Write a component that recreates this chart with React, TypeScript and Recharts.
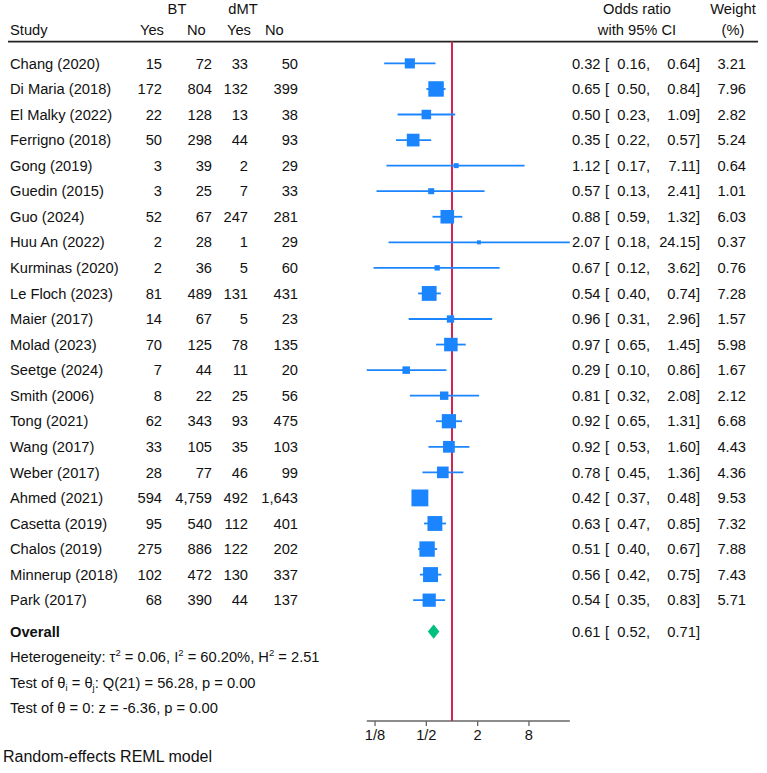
import { ScatterChart, Scatter, XAxis, YAxis, ErrorBar, ReferenceLine } from 'recharts';

// Study-level results (random-effects meta-analysis, BT vs dMT)
const studies = [
  'Chang (2020)', 'Di Maria (2018)', 'El Malky (2022)', 'Ferrigno (2018)', 'Gong (2019)',
  'Guedin (2015)', 'Guo (2024)', 'Huu An (2022)', 'Kurminas (2020)', 'Le Floch (2023)',
  'Maier (2017)', 'Molad (2023)', 'Seetge (2024)', 'Smith (2006)', 'Tong (2021)',
  'Wang (2017)', 'Weber (2017)', 'Ahmed (2021)', 'Casetta (2019)', 'Chalos (2019)',
  'Minnerup (2018)', 'Park (2017)',
];
const btYes = [15, 172, 22, 50, 3, 3, 52, 2, 2, 81, 14, 70, 7, 8, 62, 33, 28, 594, 95, 275, 102, 68];
const btNo = [72, 804, 128, 298, 39, 25, 67, 28, 36, 489, 67, 125, 44, 22, 343, 105, 77, 4759, 540, 886, 472, 390];
const dmtYes = [33, 132, 13, 44, 2, 7, 247, 1, 5, 131, 5, 78, 11, 25, 93, 35, 46, 492, 112, 122, 130, 44];
const dmtNo = [50, 399, 38, 93, 29, 33, 281, 29, 60, 431, 23, 135, 20, 56, 475, 103, 99, 1643, 401, 202, 337, 137];
const oddsRatio = [0.32, 0.65, 0.50, 0.35, 1.12, 0.57, 0.88, 2.07, 0.67, 0.54, 0.96, 0.97, 0.29, 0.81, 0.92, 0.92, 0.78, 0.42, 0.63, 0.51, 0.56, 0.54];
const ciLow = [0.16, 0.50, 0.23, 0.22, 0.17, 0.13, 0.59, 0.18, 0.12, 0.40, 0.31, 0.65, 0.10, 0.32, 0.65, 0.53, 0.45, 0.37, 0.47, 0.40, 0.42, 0.35];
const ciHigh = [0.64, 0.84, 1.09, 0.57, 7.11, 2.41, 1.32, 24.15, 3.62, 0.74, 2.96, 1.45, 0.86, 2.08, 1.31, 1.60, 1.36, 0.48, 0.85, 0.67, 0.75, 0.83];
const weights = [3.21, 7.96, 2.82, 5.24, 0.64, 1.01, 6.03, 0.37, 0.76, 7.28, 1.57, 5.98, 1.67, 2.12, 6.68, 4.43, 4.36, 9.53, 7.32, 7.88, 7.43, 5.71];

const overall = [0.61, 0.52, 0.71]; // OR, lower, upper

const axisTicks = [1 / 8, 1 / 2, 2, 8];
const axisTickLabels = ['1/8', '1/2', '2', '8'];

// layout
const W = 767;
const H = 773;
const FONT = 14.7;
const SMALL = 9.5;
const INK = '#111';
const BLUE = '#1a85ff';
const RED = '#d3264f';
const GREEN = '#00bf7f';
const NULL_PX = 452; // where OR = 1 sits
const PX_PER_LOG2 = 25.65;
const ROW0_PX = 63.4;
const ROW_STEP = 25.56;
const AXIS_PX = 721;
const rowOf = (px: number) => (px - ROW0_PX) / ROW_STEP;

const HEAD1 = rowOf(9);
const HEAD2 = rowOf(29.5);
const RULE = rowOf(41.6);
const OVERALL_ROW = 22.23;
const STAT_ROWS = [23.21, 24.22, 25.21];

const xDomain = [-NULL_PX / PX_PER_LOG2, (W - NULL_PX) / PX_PER_LOG2];
const yDomain = [rowOf(0), rowOf(AXIS_PX)];

const log2 = Math.log2;
const fmtN = (n: number) => n.toLocaleString('en-US');
const fmt2 = (n: number) => n.toFixed(2);

const COL = { study: 10, btYes: 162, btNo: 212, dmtYes: 248, dmtNo: 298, est: 600.5, brk: 605, lo: 650, hi: 700, wt: 746 };

type Cell = { x: number; anchor: 'start' | 'middle' | 'end'; text: any; bold?: boolean };

const studyRows = studies.map((s, i) => ({
  tx: 0,
  y: i,
  cells: [
    { x: COL.study, anchor: 'start', text: s },
    { x: COL.btYes, anchor: 'end', text: fmtN(btYes[i]) },
    { x: COL.btNo, anchor: 'end', text: fmtN(btNo[i]) },
    { x: COL.dmtYes, anchor: 'end', text: fmtN(dmtYes[i]) },
    { x: COL.dmtNo, anchor: 'end', text: fmtN(dmtNo[i]) },
    { x: COL.est, anchor: 'end', text: fmt2(oddsRatio[i]) },
    { x: COL.brk, anchor: 'start', text: '[' },
    { x: COL.lo, anchor: 'end', text: fmt2(ciLow[i]) + ',' },
    { x: COL.hi, anchor: 'end', text: fmt2(ciHigh[i]) + ']' },
    { x: COL.wt, anchor: 'end', text: fmt2(weights[i]) },
  ] as Cell[],
}));

const otherRows = [
  {
    tx: 0, y: HEAD1, cells: [
      { x: 177, anchor: 'middle', text: 'BT' },
      { x: 243, anchor: 'middle', text: 'dMT' },
      { x: 637, anchor: 'middle', text: 'Odds ratio' },
      { x: 733, anchor: 'middle', text: 'Weight' },
    ] as Cell[],
  },
  {
    tx: 0, y: HEAD2, cells: [
      { x: COL.study, anchor: 'start', text: 'Study' },
      { x: 140, anchor: 'start', text: 'Yes' },
      { x: 187, anchor: 'start', text: 'No' },
      { x: 227, anchor: 'start', text: 'Yes' },
      { x: 265, anchor: 'start', text: 'No' },
      { x: 637, anchor: 'middle', text: 'with 95% CI' },
      { x: 733, anchor: 'middle', text: '(%)' },
    ] as Cell[],
  },
  {
    tx: 0, y: OVERALL_ROW, cells: [
      { x: COL.study, anchor: 'start', text: 'Overall', bold: true },
      { x: COL.est, anchor: 'end', text: fmt2(overall[0]) },
      { x: COL.brk, anchor: 'start', text: '[' },
      { x: COL.lo, anchor: 'end', text: fmt2(overall[1]) + ',' },
      { x: COL.hi, anchor: 'end', text: fmt2(overall[2]) + ']' },
    ] as Cell[],
  },
  {
    tx: 0, y: STAT_ROWS[0], cells: [
      {
        x: COL.study, anchor: 'start', text: [
          <tspan key="a">Heterogeneity: τ</tspan>,
          <tspan key="b" dy={-5.5} fontSize={SMALL}>2</tspan>,
          <tspan key="c" dy={5.5}> = 0.06, I</tspan>,
          <tspan key="d" dy={-5.5} fontSize={SMALL}>2</tspan>,
          <tspan key="e" dy={5.5}> = 60.20%, H</tspan>,
          <tspan key="f" dy={-5.5} fontSize={SMALL}>2</tspan>,
          <tspan key="g" dy={5.5}> = 2.51</tspan>,
        ],
      },
    ] as Cell[],
  },
  {
    tx: 0, y: STAT_ROWS[1], cells: [
      {
        x: COL.study, anchor: 'start', text: [
          <tspan key="a">Test of θ</tspan>,
          <tspan key="b" dy={3.5} fontSize={SMALL}>i</tspan>,
          <tspan key="c" dy={-3.5}> = θ</tspan>,
          <tspan key="d" dy={3.5} fontSize={SMALL}>j</tspan>,
          <tspan key="e" dy={-3.5}>: Q(21) = 56.28, p = 0.00</tspan>,
        ],
      },
    ] as Cell[],
  },
  {
    tx: 0, y: STAT_ROWS[2], cells: [
      { x: COL.study, anchor: 'start', text: 'Test of θ = 0: z = -6.36, p = 0.00' },
    ] as Cell[],
  },
];

const studyPoints = studies.map((s, i) => ({
  name: s,
  x: log2(oddsRatio[i]),
  y: i,
  w: weights[i],
  err: [log2(oddsRatio[i]) - log2(ciLow[i]), log2(ciHigh[i]) - log2(oddsRatio[i])],
}));

const overallPoint = [{ x: log2(overall[0]), y: OVERALL_ROW, lo: log2(overall[1]), hi: log2(overall[2]) }];

const ciMin = Math.min(...ciLow);
const ciMax = Math.max(...ciHigh);

const TextRow = (props: any) => {
  const { cy, payload } = props;
  return (
    <g>
      {payload.cells.map((c: Cell, k: number) => (
        <text
          key={k}
          x={c.x}
          y={cy}
          dy="0.35em"
          textAnchor={c.anchor}
          fontSize={FONT}
          fontWeight={c.bold ? 'bold' : 'normal'}
          fill={INK}
        >
          {c.text}
        </text>
      ))}
    </g>
  );
};

// box area proportional to study weight
const WeightBox = (props: any) => {
  const { cx, cy, payload } = props;
  const s = 5.2 * Math.sqrt(payload.w) + 0.8;
  return <rect x={cx - s / 2} y={cy - s / 2} width={s} height={s} fill={BLUE} />;
};

const Diamond = (props: any) => {
  const { cx, cy, payload } = props;
  const left = cx - (payload.x - payload.lo) * PX_PER_LOG2;
  const right = cx + (payload.hi - payload.x) * PX_PER_LOG2;
  const h = 7.2;
  return <polygon points={`${left},${cy} ${cx},${cy - h} ${right},${cy} ${cx},${cy + h}`} fill={GREEN} />;
};

const ForestPlot = () => {
  return (
    <ScatterChart width={W} height={H} margin={{ top: 0, right: 0, bottom: 0, left: 0 }}>
      <XAxis
        xAxisId="or"
        type="number"
        dataKey="x"
        domain={xDomain}
        allowDataOverflow
        ticks={axisTicks.map((t) => log2(t))}
        interval={0}
        tickFormatter={(v: number) => axisTickLabels[axisTicks.findIndex((t) => Math.abs(log2(t) - v) < 1e-6)]}
        axisLine={false}
        tickLine={{ stroke: '#666', strokeWidth: 1.3 }}
        tickSize={5}
        tickMargin={4}
        tick={{ fill: INK, fontSize: FONT }}
        height={H - AXIS_PX}
      />
      <XAxis xAxisId="tbl" type="number" dataKey="tx" domain={[0, W]} allowDataOverflow hide />
      <YAxis type="number" dataKey="y" domain={yDomain} allowDataOverflow reversed hide />

      <ReferenceLine
        xAxisId="tbl"
        segment={[{ x: 8, y: RULE }, { x: 758, y: RULE }]}
        stroke="#222"
        strokeWidth={1.6}
        ifOverflow="visible"
      />
      <ReferenceLine
        xAxisId="or"
        segment={[{ x: log2(ciMin), y: yDomain[1] }, { x: log2(ciMax), y: yDomain[1] }]}
        stroke="#666"
        strokeWidth={1.3}
        ifOverflow="visible"
      />
      <ReferenceLine
        xAxisId="or"
        segment={[{ x: 0, y: RULE }, { x: 0, y: yDomain[1] }]}
        stroke={RED}
        strokeWidth={2}
        ifOverflow="visible"
      />

      <Scatter xAxisId="or" data={studyPoints} shape={WeightBox} isAnimationActive={false}>
        <ErrorBar dataKey="err" direction="x" width={0} stroke={BLUE} strokeWidth={1.8} isAnimationActive={false} />
      </Scatter>
      <Scatter xAxisId="or" data={overallPoint} shape={Diamond} isAnimationActive={false} />

      <Scatter xAxisId="tbl" data={studyRows} shape={TextRow} isAnimationActive={false} />
      <Scatter xAxisId="tbl" data={otherRows} shape={TextRow} isAnimationActive={false} />
    </ScatterChart>
  );
};

export default function App() {
  return (
    <div
      style={{
        position: 'absolute',
        left: 0,
        top: 0,
        width: W,
        height: H,
        background: '#fff',
        fontFamily: '"Liberation Sans", Arial, Helvetica, sans-serif',
      }}
    >
      <ForestPlot />
      <div style={{ position: 'absolute', left: 3, top: 748, fontSize: 16, color: INK, whiteSpace: 'nowrap' }}>
        Random-effects REML model
      </div>
    </div>
  );
}
